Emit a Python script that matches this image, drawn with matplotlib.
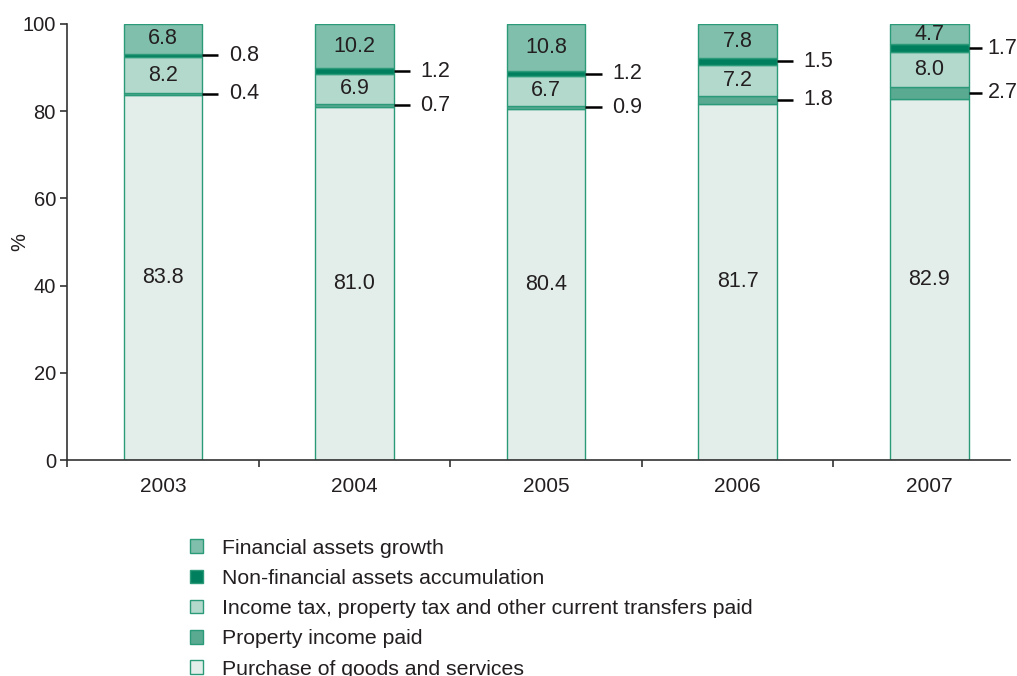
import matplotlib
matplotlib.use("Agg")
import matplotlib.pyplot as plt
from matplotlib.patches import Patch
import numpy as np

plt.rcParams["font.family"] = ["Liberation Sans", "DejaVu Sans"]

years = ["2003", "2004", "2005", "2006", "2007"]
purchase = [83.8, 81.0, 80.4, 81.7, 82.9]
property_income = [0.4, 0.7, 0.9, 1.8, 2.7]
income_tax = [8.2, 6.9, 6.7, 7.2, 8.0]
non_financial = [0.8, 1.2, 1.2, 1.5, 1.7]
financial = [6.8, 10.2, 10.8, 7.8, 4.7]

series_names = [
    "Purchase of goods and services",
    "Property income paid",
    "Income tax, property tax and other current transfers paid",
    "Non-financial assets accumulation",
    "Financial assets growth",
]
series_values = [purchase, property_income, income_tax, non_financial, financial]
series_colors = ["#e3eeea", "#5aaa92", "#b3d8cc", "#007f5f", "#80bfab"]
# how each series is labelled: inside the segment or beside the bar
label_inside = [True, False, True, False, True]

edge = "#2a9a78"
text_color = "#231f20"

fig = plt.figure(figsize=(10.17, 6.76), dpi=100)
ax = fig.add_axes([0.0659, 0.3195, 0.927, 0.645])

x = np.arange(len(years))
width = 0.41
bottom = np.zeros(len(years))
for name, vals, color, inside in zip(series_names, series_values, series_colors, label_inside):
    vals = np.array(vals)
    ax.bar(x, vals, width, bottom=bottom, color=color, edgecolor=edge, linewidth=1.0, label=name, zorder=2)
    centers = bottom + vals / 2
    for xi, c, v in zip(x, centers, vals):
        if inside:
            ax.text(xi, c, f"{v:.1f}", ha="center", va="center", fontsize=15.5, color=text_color, zorder=3)
        else:
            x0 = xi + width / 2
            # the last column sits near the right edge, so its callout is tighter
            line_len, text_off = (0.07, 0.1) if xi == x[-1] else (0.085, 0.14)
            ax.plot([x0, x0 + line_len], [c, c], color="black", linewidth=1.8,
                    solid_capstyle="butt", zorder=3, clip_on=False)
            ax.text(x0 + text_off, c, f"{v:.1f}", ha="left", va="center", fontsize=15.5,
                    color=text_color, zorder=3)
    bottom = bottom + vals

ax.set_xlim(-0.5, 4.42)
ax.set_ylim(0, 100)
ax.set_yticks(range(0, 101, 20))
ax.set_xticks(x)
ax.set_xticklabels(years)
ax.set_xticks([-0.5, 0.5, 1.5, 2.5, 3.5], minor=True)
ax.tick_params(axis="x", which="major", length=0, pad=12, labelsize=15, labelcolor=text_color)
ax.tick_params(axis="x", which="minor", length=5, width=1.2, color="#333333")
ax.tick_params(axis="y", length=5, width=1.2, color="#333333", labelsize=14.5, labelcolor=text_color, pad=3)
for s in ["top", "right"]:
    ax.spines[s].set_visible(False)
for s in ["left", "bottom"]:
    ax.spines[s].set_linewidth(1.2)
    ax.spines[s].set_color("#333333")
ax.set_ylabel("%", fontsize=14.5, color=text_color)
ax.yaxis.set_label_coords(-0.040, 0.5)

handles = [Patch(facecolor=c, edgecolor=edge, linewidth=1.0) for c in series_colors][::-1]
labels = series_names[::-1]
fig.legend(handles, labels, loc="upper left", bbox_to_anchor=(0.1767, 0.219), frameon=False,
           fontsize=15.3, handlelength=0.6, handleheight=0.6, handletextpad=0.9,
           labelspacing=0.53, borderpad=0, labelcolor=text_color)

fig.savefig("out.png", dpi=100)
